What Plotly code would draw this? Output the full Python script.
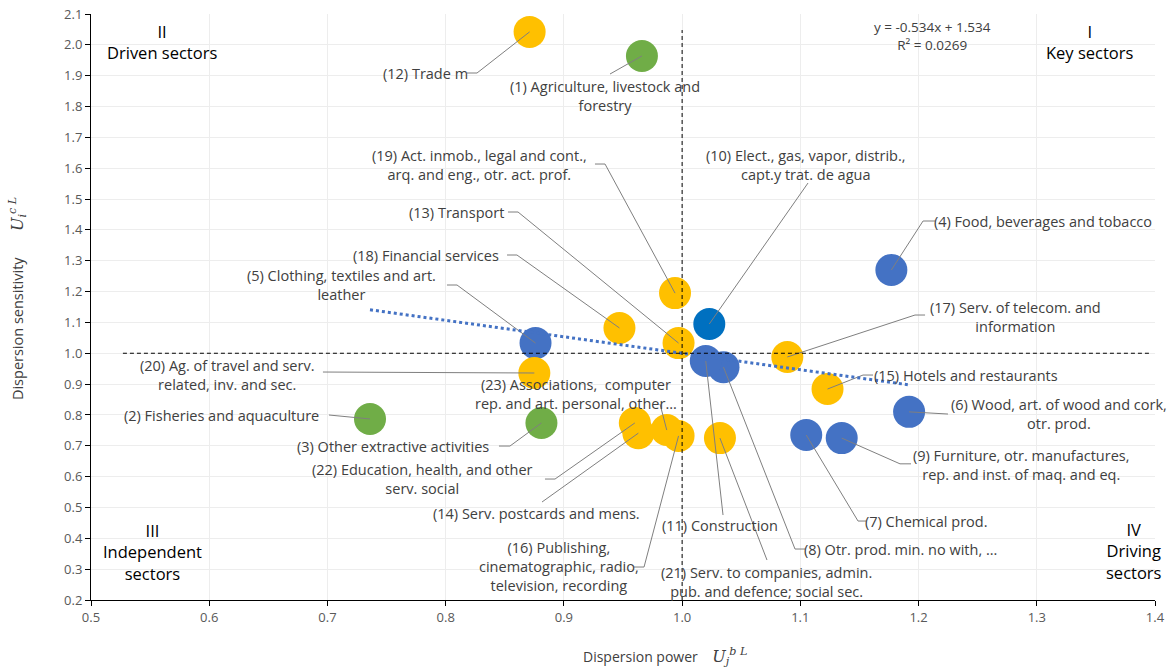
import plotly.graph_objects as go

# Sector indices: dispersion power (x) vs dispersion sensitivity (y)
sector_no = list(range(1, 24))
sector_names = [
    "Agriculture, livestock and<br>forestry",
    "Fisheries and aquaculture",
    "Other extractive activities",
    "Food, beverages and tobacco",
    "Clothing, textiles and art.<br>leather",
    "Wood, art. of wood and cork,<br>otr. prod.",
    "Chemical prod.",
    "Otr. prod. min. no with, ...",
    "Furniture, otr. manufactures,<br>rep. and inst. of maq. and eq.",
    "Elect., gas, vapor, distrib.,<br>capt.y trat. de agua",
    "Construction",
    "Trade m",
    "Transport",
    "Serv. postcards and mens.",
    "Hotels and restaurants",
    "Publishing,<br>cinematographic, radio,<br>television, recording",
    "Serv. of telecom. and<br>information",
    "Financial services",
    "Act. inmob., legal and cont.,<br>arq. and eng., otr. act. prof.",
    "Ag. of travel and serv.<br>related, inv. and sec.",
    "Serv. to companies, admin.<br>pub. and defence; social sec.",
    "Education, health, and other<br>serv. social",
    "Associations,  computer<br>rep. and art. personal, other...",
]
dispersion_power = [
    0.966, 0.736, 0.881, 1.177, 0.876, 1.192, 1.105, 1.035, 1.135, 1.023,
    1.020, 0.871, 0.997, 0.963, 1.123, 0.997, 1.089, 0.947, 0.994, 0.875,
    1.032, 0.960, 0.987,
]
dispersion_sensitivity = [
    1.964, 0.787, 0.774, 1.270, 1.033, 0.810, 0.735, 0.955, 0.725, 1.095,
    0.975, 2.042, 1.033, 0.741, 0.884, 0.732, 0.988, 1.082, 1.195, 0.936,
    0.725, 0.774, 0.751,
]
sector_group = [
    "primary", "primary", "primary", "industry", "industry", "industry",
    "industry", "industry", "industry", "utilities", "industry", "services",
    "services", "services", "services", "services", "services", "services",
    "services", "services", "services", "services", "services",
]

# Linear trend reported on the chart
trend_slope = -0.534
trend_intercept = 1.534
trend_r2 = 0.0269

x_ticks = [0.5, 0.6, 0.7, 0.8, 0.9, 1.0, 1.1, 1.2, 1.3, 1.4]
y_ticks = [0.2, 0.3, 0.4, 0.5, 0.6, 0.7, 0.8, 0.9, 1.0, 1.1, 1.2, 1.3, 1.4,
           1.5, 1.6, 1.7, 1.8, 1.9, 2.0, 2.1]

quadrants = [
    ("II<br>Driven sectors", 0.560, 2.008),
    ("I<br>Key sectors", 1.345, 2.008),
    ("III<br>Independent<br>sectors", 0.552, 0.356),
    ("IV<br>Driving<br>sectors", 1.382, 0.360),
]

group_colors = {
    "primary": "#70AD47",
    "industry": "#4472C4",
    "utilities": "#0070C0",
    "services": "#FFC000",
}

# Label placement: text anchor, anchor side and the bend points of each leader
label_layout = {
    1: (0.9348, 1.8357, "center", [(0.9390, 1.9054)]),
    2: (0.6937, 0.7998, "right", [(0.7106, 0.7965), (0.7013, 0.7998)]),
    3: (0.8375, 0.6992, "right", [(0.8544, 0.6992), (0.8451, 0.6992)]),
    4: (1.2122, 1.4288, "left", [(1.2038, 1.4288), (1.2139, 1.4288)]),
    5: (0.7115, 1.2229, "center", [(0.8096, 1.2213), (0.8011, 1.2213)]),
    6: (1.3188, 0.8030, "center", [(1.2249, 0.8030)]),
    7: (1.1539, 0.4560, "left", [(1.1488, 0.4560), (1.1556, 0.4560)]),
    8: (1.1023, 0.3653, "left", [(1.0955, 0.3653), (1.1040, 0.3653)]),
    9: (1.2867, 0.6387, "center", [(1.1843, 0.6415), (1.1936, 0.6415)]),
    10: (1.1048, 1.6120, "center", [(1.1065, 1.5520)]),
    11: (1.0321, 0.4431, "center", [(1.0346, 0.4755)]),
    12: (0.8197, 1.9087, "right", [(0.8265, 1.9087), (0.8180, 1.9087)]),
    13: (0.8502, 1.4580, "right", [(0.8612, 1.4580), (0.8527, 1.4580)]),
    14: (0.8768, 0.4820, "center", [(0.8815, 0.5177)]),
    15: (1.1615, 0.9294, "left", [(1.1530, 0.9294), (1.1615, 0.9294)]),
    16: (0.8959, 0.3085, "center", [(0.9678, 0.3069), (0.9593, 0.3069)]),
    17: (1.2816, 1.1191, "center", [(1.1970, 1.1240), (1.2055, 1.1240)]),
    18: (0.8460, 1.3186, "right", [(0.8603, 1.3186), (0.8519, 1.3186)]),
    19: (0.8290, 1.6120, "center", [(0.9348, 1.6136), (0.9263, 1.6136)]),
    20: (0.6150, 0.9311, "center", [(0.6962, 0.9392)]),
    21: (1.0710, 0.2598, "center", [(1.0718, 0.3296)]),
    22: (0.7808, 0.5922, "center", [(0.8925, 0.5922), (0.8840, 0.5922)]),
    23: (0.9103, 0.8695, "center", [(0.9813, 0.8354)]),
}

FONT_FAMILY = "Open Sans, Noto Sans, sans-serif"
LABEL_FONT = dict(family=FONT_FAMILY, size=14.5, color="#404040")
TICK_FONT = dict(family=FONT_FAMILY, size=13, color="#595959")

fig = go.Figure()

# Sector bubbles
fig.add_trace(go.Scatter(
    x=dispersion_power,
    y=dispersion_sensitivity,
    mode="markers",
    marker=dict(size=32, color=[group_colors[g] for g in sector_group], line=dict(width=0), opacity=1),
    hoverinfo="skip",
    showlegend=False,
))

# Leader lines from each bubble to its label
lx, ly = [], []
for i, n in enumerate(sector_no):
    _, _, _, path = label_layout[n]
    lx.append(dispersion_power[i])
    ly.append(dispersion_sensitivity[i])
    for px, py in path:
        lx.append(px)
        ly.append(py)
    lx.append(None)
    ly.append(None)
fig.add_trace(go.Scatter(
    x=lx, y=ly, mode="lines",
    line=dict(color="#7F7F7F", width=1),
    hoverinfo="skip", showlegend=False,
))

# Linear trend over the range of the data
x_min, x_max = min(dispersion_power), max(dispersion_power)
fig.add_trace(go.Scatter(
    x=[x_min, x_max],
    y=[trend_slope * x_min + trend_intercept, trend_slope * x_max + trend_intercept],
    mode="lines",
    line=dict(color="#4472C4", width=3, dash="dot"),
    hoverinfo="skip", showlegend=False,
))

# Quadrant dividers at 1.0
fig.add_trace(go.Scatter(
    x=[1.0, 1.0], y=[0.2, 2.048], mode="lines",
    line=dict(color="#000000", width=1, dash="4px,3px"),
    hoverinfo="skip", showlegend=False,
))
fig.add_trace(go.Scatter(
    x=[0.527, 1.396], y=[1.0, 1.0], mode="lines",
    line=dict(color="#000000", width=1, dash="4px,3px"),
    hoverinfo="skip", showlegend=False,
))

annotations = []
for i, n in enumerate(sector_no):
    tx, ty, anchor, _ = label_layout[n]
    annotations.append(dict(
        x=tx, y=ty, xref="x", yref="y",
        text=f"({n}) {sector_names[i]}",
        showarrow=False, xanchor=anchor, yanchor="middle",
        align="center", font=LABEL_FONT, borderpad=0,
    ))

for text, qx, qy in quadrants:
    annotations.append(dict(
        x=qx, y=qy, xref="x", yref="y", text=text, showarrow=False,
        xanchor="center", yanchor="middle", align="center",
        font=dict(family=FONT_FAMILY, size=16.5, color="#000000"),
    ))

annotations.append(dict(
    x=1.2114, y=2.0287, xref="x", yref="y",
    text=f"y = {trend_slope:.3f}x + {trend_intercept:.3f}<br>R² = {trend_r2:.4f}",
    showarrow=False, xanchor="center", yanchor="middle", align="center",
    font=dict(family=FONT_FAMILY, size=13.5, color="#404040"),
))

SERIF = "font-family:'DejaVu Serif',serif;font-size:16px"
annotations.append(dict(
    x=0.5395, y=-0.097, xref="paper", yref="paper",
    text=("Dispersion power&nbsp;&nbsp;&nbsp;&nbsp;"
          f"<span style=\"{SERIF}\"><i>U<sub>j</sub><sup>b L</sup></i></span>"),
    showarrow=False, xanchor="center", yanchor="middle",
    font=dict(family=FONT_FAMILY, size=14, color="#404040"),
))
annotations.append(dict(
    x=-0.069, y=0.5145, xref="paper", yref="paper",
    text=("Dispersion sensitivity&nbsp;&nbsp;&nbsp;&nbsp;&nbsp;&nbsp;&nbsp;"
          f"<span style=\"{SERIF}\"><i>U<sub>i</sub><sup>c L</sup></i></span>"),
    showarrow=False, xanchor="center", yanchor="middle", textangle=-90,
    font=dict(family=FONT_FAMILY, size=14.5, color="#404040"),
))

axis_common = dict(
    showgrid=True, gridcolor="#EDEDED", gridwidth=1,
    showline=True, linecolor="#000000", linewidth=1,
    ticks="outside", ticklen=5, tickcolor="#000000",
    zeroline=False, tickfont=TICK_FONT, automargin=False,
)

fig.update_layout(
    width=1172, height=668,
    margin=dict(l=91, r=17, t=14, b=68),
    paper_bgcolor="#FFFFFF", plot_bgcolor="#FFFFFF",
    showlegend=False,
    annotations=annotations,
    xaxis=dict(range=[0.5, 1.4], tickvals=x_ticks,
               ticktext=[f"{v:.1f}" for v in x_ticks], **axis_common),
    yaxis=dict(range=[0.2, 2.1], tickvals=y_ticks,
               ticktext=[f"{v:.1f}" for v in y_ticks], **axis_common),
)

fig.write_html("out.html")
